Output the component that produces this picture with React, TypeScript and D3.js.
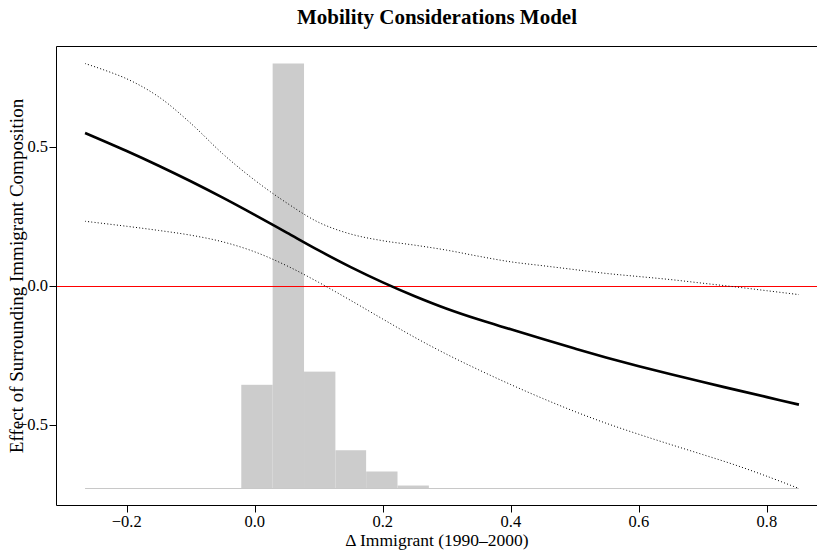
import React from "react";
import * as d3 from "d3";

// Δ Immigrant grid at which the effect was evaluated
const xGrid = [-0.265, -0.2, -0.15, -0.1, -0.05, 0, 0.05, 0.1, 0.15, 0.2, 0.25, 0.3, 0.35, 0.4, 0.45, 0.5, 0.55, 0.6, 0.65, 0.7, 0.75, 0.8, 0.85];
const effect = [0.55, 0.485, 0.432, 0.376, 0.317, 0.255, 0.191, 0.127, 0.067, 0.012, -0.038, -0.083, -0.122, -0.157, -0.192, -0.226, -0.259, -0.29, -0.319, -0.347, -0.374, -0.401, -0.428];
const upper = [0.8, 0.745, 0.68, 0.585, 0.475, 0.38, 0.298, 0.228, 0.186, 0.162, 0.146, 0.128, 0.106, 0.086, 0.072, 0.058, 0.044, 0.033, 0.022, 0.009, -0.004, -0.018, -0.032];
const lower = [0.232, 0.214, 0.199, 0.182, 0.158, 0.122, 0.072, 0.012, -0.053, -0.12, -0.186, -0.247, -0.303, -0.356, -0.406, -0.453, -0.496, -0.535, -0.572, -0.608, -0.645, -0.686, -0.73];

// histogram of Δ Immigrant
const binEdges = [-0.265, -0.216, -0.168, -0.119, -0.07, -0.021, 0.028, 0.077, 0.126, 0.174, 0.223, 0.272, 0.32, 0.369, 0.418, 0.467, 0.515, 0.564, 0.613, 0.661, 0.71, 0.759, 0.808, 0.85];
const binCounts = [0, 0, 0, 0, 0, 244, 1000, 275, 90, 40, 7, 0, 0, 0, 0, 0, 0, 0, 0, 0, 0, 0, 0];

const xTicks = [-0.2, 0, 0.2, 0.4, 0.6, 0.8];
const yTicks = [-0.5, 0, 0.5];

const title = "Mobility Considerations Model";
const xLabel = "Δ Immigrant (1990–2000)";
const yLabel = "Effect of Surrounding Immigrant Composition";

const W = 817;
const H = 550;
const FONT = "'Liberation Serif', 'Times New Roman', serif";

export default function App() {
  const xMin = d3.min(xGrid)!;
  const xMax = d3.max(xGrid)!;
  const yLo = d3.min(lower)!;
  const yHi = d3.max(upper)!;
  const xe = (xMax - xMin) * 0.04;
  const ye = (yHi - yLo) * 0.04;
  const left = 56.5, right = 827.5, top = 46.5, bottom = 505.5;
  const x = d3.scaleLinear().domain([xMin - xe, xMax + xe]).range([left, right]);
  const y = d3.scaleLinear().domain([yLo - ye, yHi + ye]).range([bottom, top]);
  const h = d3.scaleLinear().domain([0, d3.max(binCounts)!]).range([y(yLo), y(yHi)]);

  const pts = (vals: number[]) => xGrid.map((v, i) => [v, vals[i]] as [number, number]);
  const line = d3.line<[number, number]>().x((d) => x(d[0])).y((d) => y(d[1])).curve(d3.curveCatmullRom.alpha(0.5));

  const fmt = (v: number) => (v < 0 ? "\u2212" : "") + Math.abs(v).toFixed(1);
  const midX = 437;
  const midY = (top + bottom) / 2;
  const y0 = Math.round(y(0)) + 0.5;

  return (
    <svg width={W} height={H} style={{ position: "absolute", left: 0, top: 0, background: "#fff" }} fontFamily={FONT}>
      <defs>
        <clipPath id="plot">
          <rect x={left} y={top} width={right - left} height={bottom - top} />
        </clipPath>
      </defs>
      <g clipPath="url(#plot)">
        {binCounts.map((c, i) => (
          <rect key={i} x={x(binEdges[i])} width={x(binEdges[i + 1]) - x(binEdges[i])} y={h(c)} height={h(0) - h(c)} fill="#cccccc" />
        ))}
        <line x1={x(binEdges[0])} x2={x(binEdges[binEdges.length - 1])} y1={h(0)} y2={h(0)} stroke="#c8c8c8" strokeWidth={1} />
        <line x1={left} x2={right} y1={y0} y2={y0} stroke="#ff0000" strokeWidth={1} />
        <path d={line(pts(upper))!} fill="none" stroke="#000" strokeWidth={1} strokeDasharray="1 2.2" />
        <path d={line(pts(lower))!} fill="none" stroke="#000" strokeWidth={1} strokeDasharray="1 2.2" />
        <path d={line(pts(effect))!} fill="none" stroke="#000" strokeWidth={2.6} />
      </g>
      <path d={`M${right},${top}H${left}V${bottom}H${right}`} fill="none" stroke="#000" strokeWidth={1} />
      {xTicks.map((t) => (
        <g key={t}>
          <line x1={Math.round(x(t)) + 0.5} x2={Math.round(x(t)) + 0.5} y1={bottom} y2={bottom + 7} stroke="#000" />
          <text x={x(t)} y={526.5} textAnchor="middle" fontSize={16.5}>{fmt(t)}</text>
        </g>
      ))}
      {yTicks.map((t) => (
        <g key={t}>
          <line x1={left - 7} x2={left} y1={Math.round(y(t)) + 0.5} y2={Math.round(y(t)) + 0.5} stroke="#000" />
          <text x={48} y={y(t) + 5.5} textAnchor="end" fontSize={16.5}>{fmt(t)}</text>
        </g>
      ))}
      <text x={midX} y={24} textAnchor="middle" fontSize={21} fontWeight="bold">{title}</text>
      <text x={midX} y={546} textAnchor="middle" fontSize={17.5}>{xLabel}</text>
      <text transform={`translate(23,${midY}) rotate(-90)`} textAnchor="middle" fontSize={19}>{yLabel}</text>
    </svg>
  );
}
